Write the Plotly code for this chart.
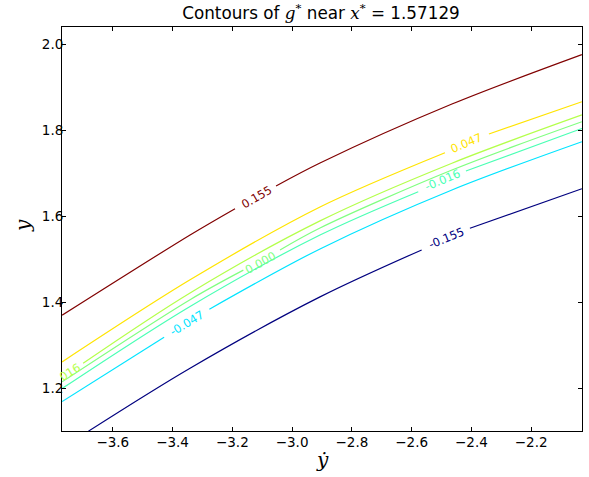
import plotly.graph_objects as go

# ---- data ----
levels = [-0.155, -0.047, -0.016, 0.000, 0.016, 0.047, 0.155]
level_colors = ["#00007f", "#00e4ff", "#4affb4", "#80ff80", "#b4ff4a", "#ffe400", "#800000"]

x_n155 = [-3.6816, -3.3415, -2.9067, -2.5666, None, -2.4050, -2.0304]
y_n155 = [1.1009, 1.2474, 1.4133, 1.5226, None, 1.5730, 1.6649]

x_n047 = [-3.7696, -3.4284, None, -3.2769, -2.9067, -2.4652, -2.0304]
y_n047 = [1.1698, 1.3195, None, 1.3847, 1.5249, 1.6621, 1.7744]

x_n016 = [-3.7696, -3.3415, -2.9067, -2.5779, None, -2.4184, -2.0304]
y_n016 = [1.2002, 1.3912, 1.5572, 1.6581, None, 1.7063, 1.8051]

x_000 = [-3.7696, -3.3415, -3.1632, None, -3.0405, -2.9067, -2.4652, -2.0304]
y_000 = [1.2158, 1.4069, 1.4756, None, 1.5226, 1.5737, 1.7086, 1.8209]

x_p016 = [-3.6993, -3.3415, -2.9067, -2.4652, -2.0304]
y_p016 = [1.2591, 1.4226, 1.5902, 1.7244, 1.8367]

x_p047 = [-3.7696, -3.3415, -2.9067, -2.4886, None, -2.3415, -2.0304]
y_p047 = [1.2621, 1.4530, 1.6226, 1.7488, None, 1.7923, 1.8674]

x_p155 = [-3.7696, -3.3415, -3.1910, None, -3.0538, -2.9067, -2.4652, -2.0304]
y_p155 = [1.3707, 1.5574, 1.6186, None, 1.6714, 1.7249, 1.8621, 1.9772]

curves_x = [x_n155, x_n047, x_n016, x_000, x_p016, x_p047, x_p155]
curves_y = [y_n155, y_n047, y_n016, y_000, y_p016, y_p047, y_p155]

# inline contour labels: text, x, y, level index
label_text = ["-0.155", "-0.047", "-0.016", "0.000", "016", "0.047", "0.155"]
label_x = [-2.4829, -3.3525, -2.4977, -3.1074, -3.7428, -2.4161, -3.1184]
label_y = [1.5498, 1.3535, 1.6853, 1.4930, 1.2388, 1.7707, 1.6465]
label_level = [0, 1, 2, 3, 4, 5, 6]
label_angle = [-22, -31, -23, -29, -32, -23, -30]

x_range = [-3.77, -2.03]
y_range = [1.10129, 2.04129]
x_ticks = [-3.6, -3.4, -3.2, -3.0, -2.8, -2.6, -2.4, -2.2]
y_ticks = [1.2, 1.4, 1.6, 1.8, 2.0]

fig = go.Figure()
for cx, cy, col, lev in zip(curves_x, curves_y, level_colors, levels):
    fig.add_trace(go.Scatter(
        x=cx, y=cy, mode="lines", name=f"{lev:.3f}",
        line=dict(color=col, width=1.2, shape="spline", smoothing=0.9),
        connectgaps=False, showlegend=False, hoverinfo="skip"))

for t, lx, ly, li, ang in zip(label_text, label_x, label_y, label_level, label_angle):
    fig.add_annotation(x=lx, y=ly, text=t, showarrow=False, textangle=ang,
                       font=dict(family="DejaVu Sans", size=11.5, color=level_colors[li]),
                       xanchor="center", yanchor="middle")

fig.add_annotation(xref="paper", yref="paper", x=0.5, y=0, yshift=-29,
                   text="<i>ẏ</i>", showarrow=False, xanchor="center", yanchor="middle",
                   font=dict(family="DejaVu Serif", size=20, color="black"))
fig.add_annotation(xref="paper", yref="paper", x=0, y=0.5, xshift=-39, yshift=3,
                   text="<i>y</i>", showarrow=False, textangle=-90,
                   xanchor="center", yanchor="middle",
                   font=dict(family="DejaVu Serif", size=20, color="black"))

axis_common = dict(showline=True, linecolor="black", linewidth=1, mirror="allticks",
                   ticks="inside", ticklen=4, tickcolor="black", showgrid=False,
                   zeroline=False, tickfont=dict(family="DejaVu Sans", size=13.5, color="black"))

fig.update_xaxes(range=x_range, tickvals=x_ticks, tickformat=".1f",
                 ticklabelstandoff=-1, **axis_common)
fig.update_yaxes(range=y_range, tickvals=y_ticks, tickformat=".1f",
                 ticklabelstandoff=-5, **axis_common)

fig.update_layout(
    width=589, height=477,
    margin=dict(l=62, r=7, t=27, b=46),
    paper_bgcolor="white", plot_bgcolor="white",
    title=dict(text="Contours of <span style=\"font-family:'DejaVu Serif'\"><i>g</i><sup>*</sup></span> near "
                    "<span style=\"font-family:'DejaVu Serif'\"><i>x</i><sup>*</sup></span> = 1.57129",
               x=0.545, xanchor="center", y=0.972, yanchor="middle",
               font=dict(family="DejaVu Sans", size=16.8, color="black")),
)

fig.write_html("out.html", config={"displayModeBar": False},
               post_script="document.body.style.margin='0';")
